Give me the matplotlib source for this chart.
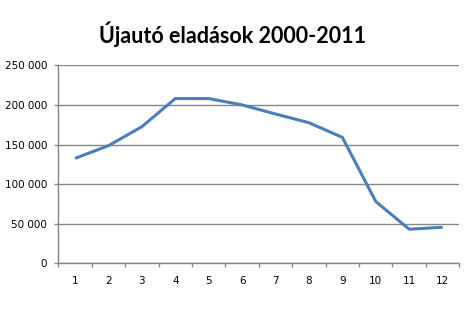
import matplotlib.pyplot as plt
import numpy as np

# data
years = ['1', '2', '3', '4', '5', '6', '7', '8', '9', '10', '11', '12']
sales = [132500, 148500, 172500, 208000, 208000, 200000, 188500, 177500, 159000, 78000, 43000, 45500]
yticks = [0, 50000, 100000, 150000, 200000, 250000]

grey = '#868686'

fig = plt.figure(figsize=(4.71, 3.14), dpi=100)
ax = fig.add_axes([0.1238, 0.1615, 0.8514, 0.6305])

x = np.arange(len(years))
ax.plot(x, sales, color='#4A7EBB', linewidth=2.2, solid_capstyle='butt', zorder=3)

ax.set_xlim(-0.5, len(years) - 0.5)
ax.set_ylim(0, 250000)

ax.set_yticks(yticks)
ax.set_yticklabels([f'{v:,}'.replace(',', ' ') for v in yticks])
ax.yaxis.grid(True, color=grey, linewidth=1.0)
ax.set_axisbelow(True)

ax.set_xticks(x)
ax.set_xticklabels(years)
ax.set_xticks(np.arange(-0.5, len(years)), minor=True)
ax.tick_params(axis='x', which='major', length=0, pad=9.5, labelsize=7.5)
ax.tick_params(axis='x', which='minor', length=3, color=grey, width=1.0)
ax.tick_params(axis='y', length=3, color=grey, width=1.0, pad=5, labelsize=7.5)

for s in ['top', 'right']:
    ax.spines[s].set_visible(False)
for s in ['left', 'bottom']:
    ax.spines[s].set_color(grey)
    ax.spines[s].set_linewidth(1.0)

fig.text(0.493, 1 - 43 / 314, 'Újautó eladások 2000-2011', ha='center', va='baseline',
         fontsize=15.5, fontweight='bold', family='Lato')

fig.savefig('out.png', dpi=100)
